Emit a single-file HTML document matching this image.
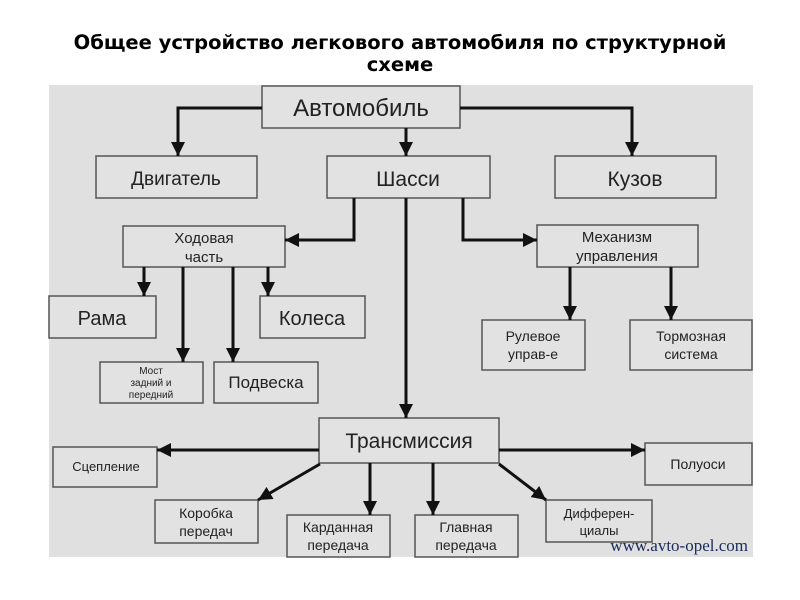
<!DOCTYPE html>
<html><head><meta charset="utf-8"><style>
body{margin:0;background:#fff;width:800px;height:600px;overflow:hidden;font-family:"Liberation Sans","DejaVu Sans",sans-serif}
h1{position:absolute;top:32px;left:0;width:800px;margin:0;text-align:center;font:bold 19.5px/22px "DejaVu Sans",sans-serif;color:#000}
</style></head><body>
<h1>Общее устройство легкового автомобиля по структурной<br>схеме</h1>
<svg width="800" height="600" style="position:absolute;left:0;top:0">
<defs>
<marker id="b" viewBox="0 0 10 10" refX="10" refY="5" markerWidth="14" markerHeight="14" orient="auto" markerUnits="userSpaceOnUse"><path d="M0,0L10,5L0,10z" fill="#111"/></marker></defs>
<rect x="49" y="85" width="704" height="472" fill="#e0e0e0"/>
<g fill="#e2e2e2" stroke="#555" stroke-width="1.5">
<rect x="262" y="86" width="198" height="42"/>
<rect x="96" y="156" width="161" height="42"/>
<rect x="327" y="156" width="163" height="42"/>
<rect x="555" y="156" width="161" height="42"/>
<rect x="123" y="226" width="162" height="41"/>
<rect x="537" y="225" width="161" height="42"/>
<rect x="49" y="296" width="107" height="42"/>
<rect x="260" y="296" width="105" height="42"/>
<rect x="100" y="362" width="103" height="41"/>
<rect x="214" y="362" width="104" height="41"/>
<rect x="482" y="320" width="103" height="50"/>
<rect x="630" y="320" width="122" height="50"/>
<rect x="319" y="418" width="180" height="45"/>
<rect x="53" y="447" width="104" height="40"/>
<rect x="645" y="443" width="107" height="42"/>
<rect x="155" y="500" width="103" height="43"/>
<rect x="287" y="515" width="103" height="42"/>
<rect x="415" y="515" width="103" height="42"/>
<rect x="546" y="500" width="106" height="42"/>
</g>
<g stroke="#111" stroke-width="3" fill="none" marker-end="url(#b)">
<path d="M262,108H178V156"/>
<path d="M406,128V156"/>
<path d="M460,108H632V156"/>
<path d="M354,198V240H285"/>
<path d="M463,198V240H537"/>
<path d="M406,198V418"/>
<path d="M144,267V296"/>
<path d="M183,267V362"/>
<path d="M233,267V362"/>
<path d="M268,267V296"/>
<path d="M570,267V320"/>
<path d="M671,267V320"/>
<path d="M319,450H157"/>
<path d="M499,450H645"/>
<path d="M320,464L258,500"/>
<path d="M370,463V515"/>
<path d="M433,463V515"/>
<path d="M499,464L546,500"/>
</g>
<g fill="#222" text-anchor="middle" font-family="Liberation Sans, sans-serif">
<text x="361" y="116" font-size="24">Автомобиль</text>
<text x="176" y="185" font-size="19">Двигатель</text>
<text x="408" y="186" font-size="21">Шасси</text>
<text x="635" y="186" font-size="21">Кузов</text>
<text x="204" y="243" font-size="15">Ходовая</text>
<text x="204" y="262" font-size="15">часть</text>
<text x="617" y="242" font-size="15">Механизм</text>
<text x="617" y="261" font-size="15">управления</text>
<text x="102" y="325" font-size="20">Рама</text>
<text x="312" y="325" font-size="20">Колеса</text>
<text x="151" y="374" font-size="10">Мост</text>
<text x="151" y="386" font-size="10">задний и</text>
<text x="151" y="398" font-size="10">передний</text>
<text x="266" y="388" font-size="17">Подвеска</text>
<text x="533" y="341" font-size="14">Рулевое</text>
<text x="533" y="359" font-size="14">управ-е</text>
<text x="691" y="341" font-size="14">Тормозная</text>
<text x="691" y="359" font-size="14">система</text>
<text x="409" y="448" font-size="21">Трансмиссия</text>
<text x="106" y="471" font-size="13">Сцепление</text>
<text x="698" y="469" font-size="14">Полуоси</text>
<text x="206" y="518" font-size="14">Коробка</text>
<text x="206" y="536" font-size="14">передач</text>
<text x="338" y="532" font-size="14">Карданная</text>
<text x="338" y="550" font-size="14">передача</text>
<text x="466" y="532" font-size="14">Главная</text>
<text x="466" y="550" font-size="14">передача</text>
<text x="599" y="518" font-size="13">Дифферен-</text>
<text x="599" y="535" font-size="13">циалы</text>
</g>
<text x="748" y="551" text-anchor="end" font-family="Liberation Serif, serif" font-size="17" fill="#1a2a5a">www.avto-opel.com</text>
</svg>
</body></html>
